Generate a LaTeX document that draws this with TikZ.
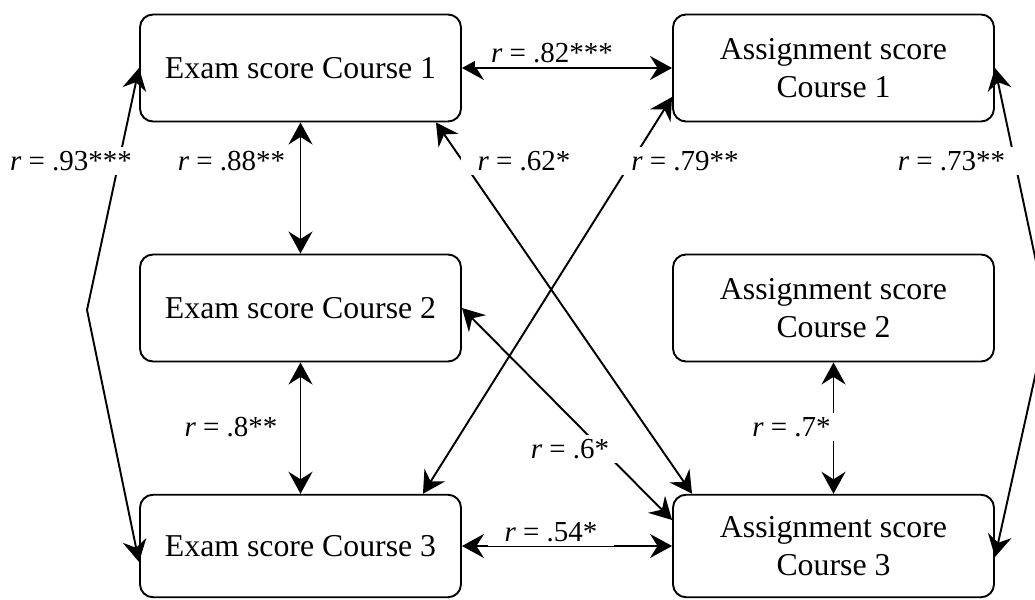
\documentclass[tikz,border=0pt]{standalone}
\usepackage{fontspec}
\setmainfont{Liberation Serif}
\usetikzlibrary{arrows.meta,positioning,calc}
\newcommand{\scorefont}{\fontsize{18.1}{21.6}\selectfont}
\newcommand{\corrfont}{\fontsize{16.5}{19.8}\selectfont}
\tikzset{
  scorebox/.style={draw=black,line width=1.1pt,rounded corners=0.26cm,fill=white,minimum width=6.42cm,minimum height=2.14cm,align=center,font=\scorefont},
  corr/.style={{Stealth[length=0.44cm,width=0.48cm,inset=0.15cm]}-{Stealth[length=0.44cm,width=0.48cm,inset=0.15cm]},line width=1.1pt},
  rlab/.style={fill=white,inner xsep=0.33cm,inner ysep=0.08cm,font=\corrfont},
  rlabplain/.style={inner sep=0.05cm,font=\corrfont}
}

\begin{document}
\begin{tikzpicture}
  \useasboundingbox (0,0) rectangle (20.7,11.98);
  % score boxes
  \node[scorebox] (exam1) at (6.01,10.62) {Exam score Course 1};
  \node[scorebox] (exam2) at (6.01,5.82) {Exam score Course 2};
  \node[scorebox,minimum height=2.05cm] (exam3) at (6.01,1.06) {Exam score Course 3};
  \node[scorebox] (asg1) at (16.67,10.62) {Assignment score\\Course 1};
  \node[scorebox] (asg2) at (16.67,5.82) {Assignment score\\Course 2};
  \node[scorebox,minimum height=2.05cm] (asg3) at (16.67,1.06) {Assignment score\\Course 3};
  % bends of the outer arrows
  \coordinate (bendL) at (1.74,5.78);
  \coordinate (bendR) at (20.96,5.62);
  % correlations
  \draw[corr] (exam1) -- (asg1);
  \draw[corr] (exam1) -- (exam2);
  \draw[corr] (exam2) -- (exam3);
  \draw[corr] (exam3) -- (asg3);
  \draw[corr] (asg2) -- (asg3);
  \draw[corr] (exam1.west) -- (bendL) -- ([yshift=-0.32cm]exam3.west);
  \draw[corr] (asg1.east) -- (bendR) -- ([yshift=-0.22cm]asg3.east);
  \draw[corr] ([xshift=-0.52cm]exam1.south east) -- ([xshift=0.4cm]asg3.north west);
  \draw[corr] ([xshift=-0.78cm]exam3.north east) -- ([yshift=-0.58cm]asg1.west);
  \draw[corr] (exam2.east) -- ([yshift=0.52cm]asg3.west);
  % r values
  \node[rlab] (r93) at (1.42,8.76) {\textit{r} = .93***};
  \node[rlabplain] (r88) at (4.63,8.76) {\textit{r} = .88**};
  \node[rlab] (r82) at (11.04,10.92) {\textit{r} = .82***};
  \node[rlab] (r62) at (10.48,8.76) {\textit{r} = .62*};
  \node[rlab] (r79) at (13.7,8.76) {\textit{r} = .79**};
  \node[rlab] (r73) at (19.03,8.76) {\textit{r} = .73**};
  \node[rlabplain] (r8) at (4.62,3.44) {\textit{r} = .8**};
  \node[rlab] (r6) at (11.4,3.0) {\textit{r} = .6*};
  \node[rlab] (r7) at (15.83,3.44) {\textit{r} = .7*};
  \node[rlab] (r54) at (11.02,1.34) {\textit{r} = .54*};
\end{tikzpicture}
\end{document}
